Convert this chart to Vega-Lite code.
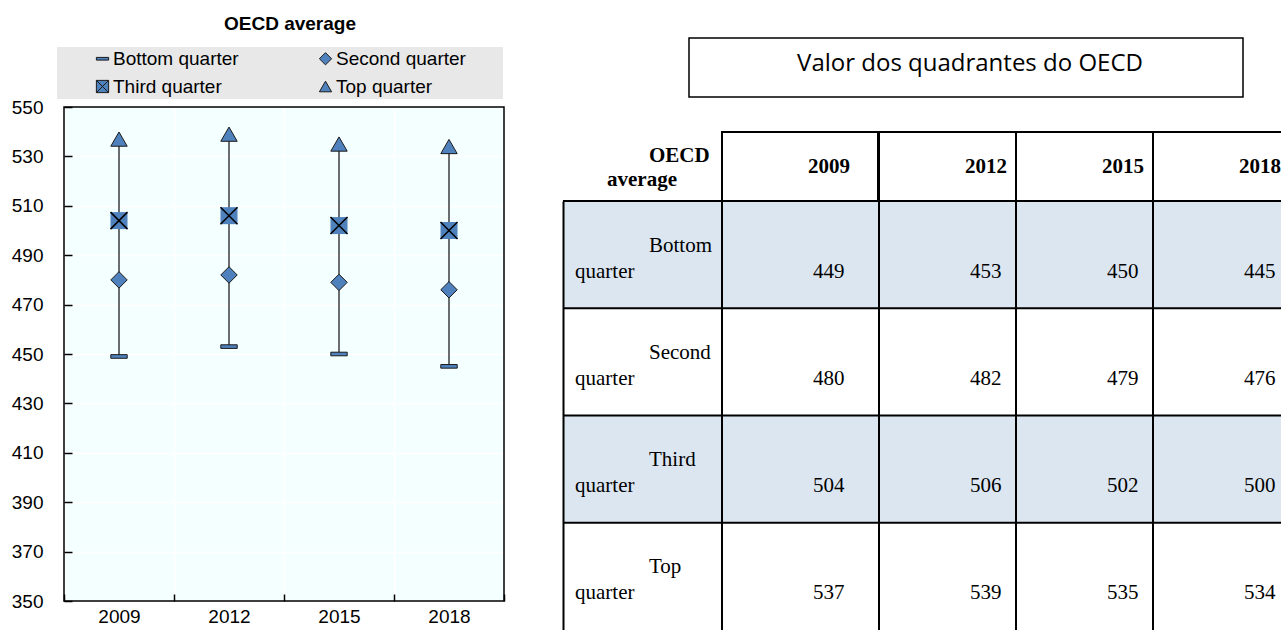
{
  "$schema": "https://vega.github.io/schema/vega-lite/v6.json",
  "padding": {"left": 11, "top": 14, "right": 0, "bottom": 0},
  "background": "white",
  "config": {
    "view": {"stroke": null},
    "font": "Liberation Sans",
    "axis": {"labelFont": "Liberation Sans", "labelFontSize": 19, "labelColor": "black"}
  },
  "datasets": {
    "scores": [
      {"year": "2009", "quarter": "Bottom quarter", "score": 449},
      {"year": "2009", "quarter": "Second quarter", "score": 480},
      {"year": "2009", "quarter": "Third quarter", "score": 504},
      {"year": "2009", "quarter": "Top quarter", "score": 537},
      {"year": "2012", "quarter": "Bottom quarter", "score": 453},
      {"year": "2012", "quarter": "Second quarter", "score": 482},
      {"year": "2012", "quarter": "Third quarter", "score": 506},
      {"year": "2012", "quarter": "Top quarter", "score": 539},
      {"year": "2015", "quarter": "Bottom quarter", "score": 450},
      {"year": "2015", "quarter": "Second quarter", "score": 479},
      {"year": "2015", "quarter": "Third quarter", "score": 502},
      {"year": "2015", "quarter": "Top quarter", "score": 535},
      {"year": "2018", "quarter": "Bottom quarter", "score": 445},
      {"year": "2018", "quarter": "Second quarter", "score": 476},
      {"year": "2018", "quarter": "Third quarter", "score": 500},
      {"year": "2018", "quarter": "Top quarter", "score": 534}
    ]
  },
  "spacing": 57,
  "hconcat": [
    {
      "spacing": 64,
      "vconcat": [
        {
          "width": 440,
          "height": 20,
          "data": {"values": [{"label": "OECD average"}]},
          "mark": {"type": "text", "font": "Liberation Sans", "fontSize": 19, "fontWeight": "bold", "color": "black", "baseline": "middle", "dx": 6},
          "encoding": {"text": {"field": "label"}}
        },
        {
          "width": 440,
          "height": 494,
          "view": {"fill": "#F4FFFF", "stroke": null},
          "data": {"name": "scores"},
          "layer": [
            {
              "mark": {"type": "rule", "color": "#3c3c3c", "strokeWidth": 1.5},
              "encoding": {
                "x": {"field": "year", "type": "ordinal", "title": null,
                      "scale": {"domain": ["2009", "2012", "2015", "2018"], "paddingInner": 0, "paddingOuter": 0},
                      "axis": {"tickBand": "extent", "tickSize": -7, "tickColor": "black", "tickWidth": 1.5, "labelPadding": 13, "labelAngle": 0, "grid": true, "gridColor": "white", "gridWidth": 1.5, "domain": false}},
                "y": {"aggregate": "min", "field": "score", "type": "quantitative", "title": null,
                      "scale": {"domain": [350, 550], "nice": false, "zero": false},
                      "axis": {"values": [350, 370, 390, 410, 430, 450, 470, 490, 510, 530, 550], "tickSize": -8, "tickColor": "black", "tickWidth": 1.5, "labelPadding": 29, "grid": true, "gridColor": "white", "gridWidth": 1.5, "domain": false}},
                "y2": {"aggregate": "max", "field": "score"}
              }
            },
            {
              "transform": [{"filter": "datum.quarter !== 'Third quarter'"}],
              "mark": {"type": "point", "filled": true, "fill": "#4F81BD", "stroke": "#1a1a1a", "strokeWidth": 1, "size": 270, "opacity": 1},
              "encoding": {
                "x": {"field": "year", "type": "ordinal", "title": null},
                "y": {"field": "score", "type": "quantitative", "title": null},
                "shape": {
                  "field": "quarter", "type": "nominal",
                  "scale": {
                    "domain": ["Bottom quarter", "Second quarter", "Third quarter", "Top quarter"],
                    "range": ["M-1,-0.22L1,-0.22L1,0.22L-1,0.22Z", "diamond", "M-1,-1L1,-1L1,1L-1,1Z M-1,-1L1,1 M1,-1L-1,1", "triangle-up"]
                  },
                  "legend": {
                    "orient": "none", "legendX": -7, "legendY": 33,
                    "direction": "horizontal", "columns": 2,
                    "fillColor": "#E8E8E8", "padding": 2,
                    "symbolOffset": 34, "columnPadding": 43, "rowPadding": 8,
                    "labelFont": "Liberation Sans", "labelFontSize": 19, "labelColor": "black", "labelOffset": 1, "labelLimit": 300,
                    "symbolSize": 150, "symbolStrokeWidth": 1,
                    "title": "\u00a0", "titleOrient": "right", "titlePadding": 35
                  }
                }
              }
            },
            {
              "transform": [{"filter": "datum.quarter === 'Third quarter'"}],
              "mark": {"type": "point", "shape": "square", "filled": true, "fill": "#4F81BD", "strokeWidth": 0, "size": 289, "opacity": 1},
              "encoding": {
                "x": {"field": "year", "type": "ordinal", "title": null},
                "y": {"field": "score", "type": "quantitative", "title": null}
              }
            },
            {
              "transform": [{"filter": "datum.quarter === 'Third quarter'"}],
              "mark": {"type": "point", "shape": "M-1,-1L1,1M1,-1L-1,1", "filled": false, "stroke": "black", "strokeWidth": 1.5, "size": 289, "opacity": 1},
              "encoding": {
                "x": {"field": "year", "type": "ordinal", "title": null},
                "y": {"field": "score", "type": "quantitative", "title": null}
              }
            },
            {
              "data": {"values": [{}]},
              "mark": {"type": "rect", "filled": false, "stroke": "black", "strokeWidth": 1.5},
              "encoding": {}
            }
          ]
        }
      ]
    },
    {
      "spacing": 33,
      "vconcat": [
        {
          "width": 680,
          "height": 83,
          "data": {"values": [{"caption": "Valor dos quadrantes do OECD"}]},
          "encoding": {
            "x": {"field": "caption", "type": "nominal", "axis": null,
                  "scale": {"type": "band", "paddingInner": 0, "paddingOuter": 0.113718, "align": 1, "round": false}},
            "y": {"field": "caption", "type": "nominal", "axis": null,
                  "scale": {"type": "band", "paddingInner": 0, "paddingOuter": 0.20339, "align": 1, "round": false}}
          },
          "layer": [
            {"mark": {"type": "rect", "fill": "white", "stroke": "black", "strokeWidth": 1.5}},
            {"mark": {"type": "text", "font": "Open Sans", "fontSize": 24, "color": "black", "dx": 4, "dy": -4},
             "encoding": {"text": {"field": "caption"}}}
          ]
        },
        {
          "spacing": -2,
          "hconcat": [
            {
              "bounds": "flush",
              "spacing": 0,
              "vconcat": [
                {
                  "width": 315,
                  "height": 69,
                  "data": {"name": "scores"},
                  "transform": [{"filter": "datum.quarter === 'Bottom quarter' && datum.year === '2009'"}],
                  "encoding": {
                    "x": {"field": "year", "type": "ordinal", "axis": null,
                          "scale": {"domain": ["2009"], "paddingInner": 0, "paddingOuter": 0.509615, "align": 1, "round": false}}
                  },
                  "layer": [
                    {"mark": {"type": "rect", "fill": "white", "stroke": "black", "strokeWidth": 2}},
                    {
                      "mark": {"type": "text", "font": "Liberation Serif", "fontSize": 21, "fontWeight": "bold", "color": "black", "align": "left", "baseline": "middle", "dx": 86},
                      "encoding": {"x": {"field": "year", "type": "ordinal", "bandPosition": 0}, "text": {"field": "year"}}
                    },
                    {
                      "mark": {"type": "text", "text": "OECD", "font": "Liberation Serif", "fontSize": 21, "fontWeight": "bold", "color": "black", "align": "left", "baseline": "middle", "dx": -73, "dy": -11},
                      "encoding": {"x": {"field": "year", "type": "ordinal", "bandPosition": 0}}
                    },
                    {
                      "mark": {"type": "text", "text": "average", "font": "Liberation Serif", "fontSize": 21, "fontWeight": "bold", "color": "black", "align": "left", "baseline": "middle", "dx": -115, "dy": 13},
                      "encoding": {"x": {"field": "year", "type": "ordinal", "bandPosition": 0}}
                    }
                  ]
                },
                {
                  "width": 315,
                  "height": 429,
                  "data": {"name": "scores"},
                  "transform": [{"filter": "datum.year === '2009'"}],
                  "layer": [
                    {
                      "mark": {"type": "rect"},
                      "encoding": {
                        "y": {"field": "quarter", "type": "nominal",
                              "scale": {"domain": ["Bottom quarter", "Second quarter", "Third quarter", "Top quarter"], "paddingInner": 0, "paddingOuter": 0, "round": false},
                              "axis": {"orient": "left", "labels": false, "ticks": false, "domain": true, "domainColor": "black", "domainWidth": 2, "grid": false, "title": null}},
                        "fill": {"condition": {"test": "datum.quarter === 'Bottom quarter' || datum.quarter === 'Third quarter'", "value": "#DCE6F1"}, "value": "white"}
                      }
                    },
                    {
                      "mark": {"type": "rule", "color": "black", "strokeWidth": 2},
                      "encoding": {"y": {"field": "quarter", "type": "nominal", "bandPosition": 0}}
                    },
                    {
                      "transform": [{"filter": "datum.quarter === 'Bottom quarter'"}],
                      "mark": {"type": "rule", "color": "black", "strokeWidth": 2},
                      "encoding": {
                        "x": {"field": "year", "type": "ordinal", "bandPosition": 0, "axis": null,
                              "scale": {"domain": ["2009"], "paddingInner": 0, "paddingOuter": 0.509615, "align": 1, "round": false}}
                      }
                    },
                    {
                      "mark": {"type": "text", "text": {"expr": "split(datum.quarter, ' ')[0]"}, "font": "Liberation Serif", "fontSize": 21, "color": "black", "align": "left", "baseline": "middle", "dx": -73, "dy": -9},
                      "encoding": {
                        "x": {"field": "year", "type": "ordinal", "bandPosition": 0},
                        "y": {"field": "quarter", "type": "nominal"}
                      }
                    },
                    {
                      "mark": {"type": "text", "text": {"expr": "split(datum.quarter, ' ')[1]"}, "font": "Liberation Serif", "fontSize": 21, "color": "black", "align": "left", "baseline": "middle", "dx": -147, "dy": 17},
                      "encoding": {
                        "x": {"field": "year", "type": "ordinal", "bandPosition": 0},
                        "y": {"field": "quarter", "type": "nominal"}
                      }
                    },
                    {
                      "mark": {"type": "text", "font": "Liberation Serif", "fontSize": 21, "color": "black", "align": "left", "baseline": "middle", "dx": 91, "dy": 17},
                      "encoding": {
                        "x": {"field": "year", "type": "ordinal", "bandPosition": 0},
                        "y": {"field": "quarter", "type": "nominal"},
                        "text": {"field": "score", "type": "quantitative"}
                      }
                    }
                  ]
                }
              ]
            },
            {
              "bounds": "flush",
              "spacing": 0,
              "vconcat": [
                {
                  "width": 411,
                  "height": 69,
                  "data": {"name": "scores"},
                  "transform": [{"filter": "datum.quarter === 'Bottom quarter' && datum.year !== '2009'"}],
                  "encoding": {
                    "x": {"field": "year", "type": "ordinal", "axis": null,
                          "scale": {"domain": ["2012", "2015", "2018"], "paddingInner": 0, "paddingOuter": 0, "round": false}}
                  },
                  "layer": [
                    {"mark": {"type": "rect", "fill": "white", "stroke": "black", "strokeWidth": 2}},
                    {
                      "mark": {"type": "text", "font": "Liberation Serif", "fontSize": 21, "fontWeight": "bold", "color": "black", "align": "left", "baseline": "middle", "dx": 86},
                      "encoding": {"x": {"field": "year", "type": "ordinal", "bandPosition": 0}, "text": {"field": "year"}}
                    }
                  ]
                },
                {
                  "width": 411,
                  "height": 429,
                  "data": {"name": "scores"},
                  "transform": [{"filter": "datum.year !== '2009'"}],
                  "layer": [
                    {
                      "transform": [{"filter": "datum.year === '2012'"}],
                      "mark": {"type": "rect"},
                      "encoding": {
                        "y": {"field": "quarter", "type": "nominal", "axis": null,
                              "scale": {"domain": ["Bottom quarter", "Second quarter", "Third quarter", "Top quarter"], "paddingInner": 0, "paddingOuter": 0, "round": false}},
                        "fill": {"condition": {"test": "datum.quarter === 'Bottom quarter' || datum.quarter === 'Third quarter'", "value": "#DCE6F1"}, "value": "white"}
                      }
                    },
                    {
                      "transform": [{"filter": "datum.year === '2012'"}],
                      "mark": {"type": "rule", "color": "black", "strokeWidth": 2},
                      "encoding": {"y": {"field": "quarter", "type": "nominal", "bandPosition": 0}}
                    },
                    {
                      "transform": [{"filter": "datum.quarter === 'Bottom quarter'"}],
                      "mark": {"type": "rule", "color": "black", "strokeWidth": 2},
                      "encoding": {
                        "x": {"field": "year", "type": "ordinal", "bandPosition": 0, "axis": null,
                              "scale": {"domain": ["2012", "2015", "2018"], "paddingInner": 0, "paddingOuter": 0, "round": false}}
                      }
                    },
                    {
                      "mark": {"type": "text", "font": "Liberation Serif", "fontSize": 21, "color": "black", "align": "left", "baseline": "middle", "dx": 91, "dy": 17},
                      "encoding": {
                        "x": {"field": "year", "type": "ordinal", "bandPosition": 0},
                        "y": {"field": "quarter", "type": "nominal"},
                        "text": {"field": "score", "type": "quantitative"}
                      }
                    }
                  ]
                }
              ]
            }
          ]
        }
      ]
    }
  ]
}
